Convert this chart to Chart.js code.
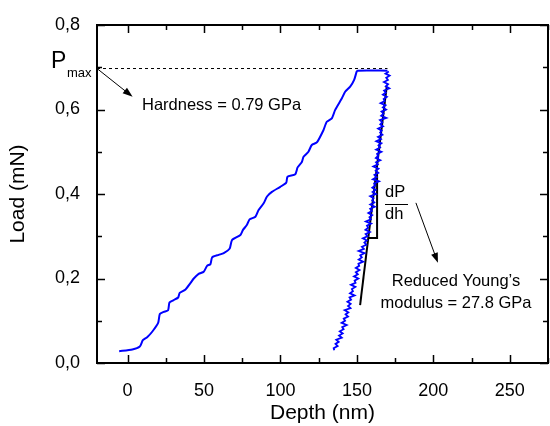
<!DOCTYPE html>
<html>
<head>
<meta charset="utf-8">
<script src="https://cdn.jsdelivr.net/npm/chart.js@4.4.0/dist/chart.umd.min.js"></script>
<style>
  html, body { margin: 0; padding: 0; background: #fff; }
  #wrap { width: 550px; height: 426px; }
</style>
</head>
<body>
<div id="wrap"><canvas id="chart" width="550" height="426"></canvas></div>
<script>
// loading branch (depth nm, load mN)
const loadDepth = [-5.5, 3.1, 8, 10, 12.8, 16.1, 20, 21.1, 23.7, 26.5, 27.4, 30.2, 33.1, 34.1, 37.9, 41.1, 43.3, 46.5, 49.8, 52, 54.2, 55.3, 59.6, 62.9, 66.8, 68.3, 73.8, 75.5, 78.1, 79.8, 83.6, 85.7, 89, 91.2, 94.4, 99.9, 103.8, 104.6, 109.7, 111.2, 114, 115.1, 118.3, 120.5, 123.8, 128.1, 130.3, 133.6, 135.8, 140.1, 142.3, 145.6, 148.2, 149.9, 150.5, 170];
const loadForce = [0.028, 0.032, 0.039, 0.054, 0.061, 0.074, 0.095, 0.116, 0.121, 0.125, 0.143, 0.149, 0.155, 0.166, 0.174, 0.189, 0.2, 0.211, 0.216, 0.23, 0.234, 0.25, 0.256, 0.26, 0.271, 0.291, 0.303, 0.315, 0.327, 0.34, 0.346, 0.362, 0.378, 0.394, 0.405, 0.417, 0.427, 0.441, 0.447, 0.463, 0.476, 0.488, 0.5, 0.516, 0.522, 0.551, 0.571, 0.579, 0.599, 0.626, 0.642, 0.654, 0.67, 0.69, 0.692, 0.692];

// unloading branch (noisy)
const unloadDepth = [
    170.9, 168.7, 171.4, 169.2, 170.3, 167.7, 170.4, 168.9, 171.2, 167.8,
    169.0, 167.0, 169.6, 167.5, 168.2, 165.5, 168.7, 167.0, 169.1, 166.1,
    167.5, 165.9, 169.2, 165.1, 166.6, 165.3, 167.1, 163.9, 166.2, 165.2,
    166.7, 163.8, 165.7, 162.7, 166.0, 164.1, 165.2, 162.6, 166.0, 163.2,
    163.8, 162.4, 165.3, 162.5, 163.7, 160.8, 164.1, 162.3, 164.0, 161.5,
    163.0, 160.5, 164.4, 161.3, 162.0, 160.1, 162.3, 160.3, 162.5, 158.7,
    160.9, 160.0, 161.4, 158.8, 161.7, 158.7, 159.8, 157.5, 160.0, 158.2,
    159.1, 155.9, 159.3, 156.6, 157.4, 155.6, 158.5, 155.7, 156.9, 153.9,
    156.5, 154.9, 156.2, 153.3, 154.6, 151.2, 155.0, 152.2, 153.2, 151.2,
    154.1, 151.0, 151.5, 149.3, 151.7, 149.3, 150.6, 148.1, 150.9, 148.5,
    149.1, 146.1, 149.0, 146.7, 147.4, 145.5, 148.5, 145.2, 146.2, 143.8,
    145.9, 144.2, 145.8, 142.0, 144.4, 142.6, 144.2, 141.4, 142.3, 140.0,
    143.3, 140.4, 141.3, 138.8, 140.7, 138.3, 140.1, 136.5, 138.1, 136.0,
    137.4, 134.8, 135.2];
const unloadForce = [
    0.690, 0.685, 0.680, 0.675, 0.670, 0.665, 0.660, 0.655, 0.650, 0.645,
    0.640, 0.635, 0.630, 0.625, 0.620, 0.615, 0.610, 0.605, 0.600, 0.595,
    0.590, 0.585, 0.580, 0.575, 0.570, 0.565, 0.560, 0.555, 0.550, 0.545,
    0.540, 0.535, 0.530, 0.525, 0.520, 0.515, 0.510, 0.505, 0.500, 0.495,
    0.490, 0.485, 0.480, 0.475, 0.470, 0.465, 0.460, 0.455, 0.450, 0.445,
    0.440, 0.435, 0.430, 0.425, 0.420, 0.415, 0.410, 0.405, 0.400, 0.395,
    0.390, 0.385, 0.380, 0.375, 0.370, 0.365, 0.360, 0.355, 0.350, 0.345,
    0.340, 0.335, 0.330, 0.325, 0.320, 0.315, 0.310, 0.305, 0.300, 0.295,
    0.290, 0.285, 0.280, 0.275, 0.270, 0.265, 0.260, 0.255, 0.250, 0.245,
    0.240, 0.235, 0.230, 0.225, 0.220, 0.215, 0.210, 0.205, 0.200, 0.195,
    0.190, 0.185, 0.180, 0.175, 0.170, 0.165, 0.160, 0.155, 0.150, 0.145,
    0.140, 0.135, 0.130, 0.125, 0.120, 0.115, 0.110, 0.105, 0.100, 0.095,
    0.090, 0.085, 0.080, 0.075, 0.070, 0.065, 0.060, 0.055, 0.050, 0.045,
    0.040, 0.035, 0.030];

// construction lines
const pmaxDepth = [-20, 170];
const pmaxForce = [0.697, 0.697];
const tangentDepth = [152.1, 169.5];
const tangentForce = [0.137, 0.654];
const triangleDepth = [157.3, 163.2, 163.2];
const triangleForce = [0.296, 0.296, 0.45];

// axes
const xMajor = [0, 50, 100, 150, 200, 250];
const xMinor = [25, 75, 125, 175, 225, 275];
const yMajor = [0, 0.2, 0.4, 0.6, 0.8];
const yMinor = [0.1, 0.3, 0.5, 0.7];
const yLabels = ['0,0', '0,2', '0,4', '0,6', '0,8'];

const FONT = "'Liberation Sans', Arial, sans-serif";

function pts(xs, ys) {
    return xs.map((x, i) => ({ x: x, y: ys[i] }));
}

// inward ticks + frame
const frameTicks = {
    id: 'frameTicks',
    afterDraw(chart) {
        const { ctx, chartArea: a, scales: { x, y } } = chart;
        ctx.save();
        ctx.strokeStyle = '#000';
        ctx.lineWidth = 2;
        ctx.strokeRect(a.left, a.top, a.right - a.left, a.bottom - a.top);
        ctx.lineWidth = 1.5;
        ctx.beginPath();
        const xt = (v, len) => {
            const px = Math.round(x.getPixelForValue(v)) + 0.5;
            ctx.moveTo(px, a.bottom); ctx.lineTo(px, a.bottom - len);
            ctx.moveTo(px, a.top); ctx.lineTo(px, a.top + len);
        };
        const yt = (v, len) => {
            const py = Math.round(y.getPixelForValue(v)) + 0.5;
            ctx.moveTo(a.left, py); ctx.lineTo(a.left + len, py);
            ctx.moveTo(a.right, py); ctx.lineTo(a.right - len, py);
        };
        xMajor.forEach(v => xt(v, 8));
        xMinor.forEach(v => xt(v, 5));
        yMajor.forEach(v => yt(v, 8));
        yMinor.forEach(v => yt(v, 5));
        ctx.stroke();
        ctx.restore();
    }
};

function arrow(ctx, x1, y1, x2, y2) {
    const ang = Math.atan2(y2 - y1, x2 - x1);
    const L = 10, W = 3.5;
    ctx.beginPath();
    ctx.moveTo(x1, y1);
    ctx.lineTo(x2 - L * Math.cos(ang) * 0.8, y2 - L * Math.sin(ang) * 0.8);
    ctx.stroke();
    ctx.beginPath();
    ctx.moveTo(x2, y2);
    ctx.lineTo(x2 - L * Math.cos(ang) + W * Math.sin(ang), y2 - L * Math.sin(ang) - W * Math.cos(ang));
    ctx.lineTo(x2 - L * Math.cos(ang) - W * Math.sin(ang), y2 - L * Math.sin(ang) + W * Math.cos(ang));
    ctx.closePath();
    ctx.fill();
}

const notes = {
    id: 'notes',
    afterDraw(chart) {
        const { ctx, scales: { x, y } } = chart;
        ctx.save();
        ctx.fillStyle = '#000';
        ctx.strokeStyle = '#000';
        ctx.lineWidth = 1;

        // Pmax label
        ctx.textBaseline = 'alphabetic';
        ctx.textAlign = 'left';
        ctx.font = '23px ' + FONT;
        ctx.fillText('P', 51, 68);
        ctx.font = '13px ' + FONT;
        ctx.fillText('max', 67, 77);

        // hardness
        arrow(ctx, x.getPixelForValue(-20), y.getPixelForValue(0.697),
              x.getPixelForValue(3.3), y.getPixelForValue(0.63));
        ctx.font = '16.5px ' + FONT;
        ctx.fillText('Hardness = 0.79 GPa', 142, 110);

        // dP/dh
        ctx.fillText('dP', 385, 197);
        ctx.fillText('dh', 385, 219);
        ctx.beginPath();
        ctx.moveTo(385, 204.5); ctx.lineTo(408, 204.5);
        ctx.stroke();

        arrow(ctx, x.getPixelForValue(188.6), y.getPixelForValue(0.379),
              x.getPixelForValue(203), y.getPixelForValue(0.237));
        ctx.textAlign = 'center';
        ctx.fillText('Reduced Young\u2019s', 456, 286);
        ctx.fillText('modulus = 27.8 GPa', 456, 308);
        ctx.restore();
    }
};

new Chart(document.getElementById('chart'), {
    type: 'scatter',
    data: {
        datasets: [
            { data: pts(pmaxDepth, pmaxForce), showLine: true, borderColor: '#000', borderWidth: 1, borderDash: [3, 3], pointRadius: 0 },
            { data: pts(loadDepth, loadForce), showLine: true, borderColor: '#0000ff', borderWidth: 2, pointRadius: 0, tension: 0.2 },
            { data: pts(unloadDepth, unloadForce), showLine: true, borderColor: '#0000ff', borderWidth: 1.8, pointRadius: 0 },
            { data: pts(tangentDepth, tangentForce), showLine: true, borderColor: '#000', borderWidth: 2, pointRadius: 0 },
            { data: pts(triangleDepth, triangleForce), showLine: true, borderColor: '#000', borderWidth: 2, pointRadius: 0 }
        ]
    },
    options: {
        responsive: false,
        animation: false,
        devicePixelRatio: 1,
        layout: { padding: { top: 25, right: 2, left: 0, bottom: 0 } },
        plugins: { legend: { display: false }, tooltip: { enabled: false } },
        scales: {
            x: {
                type: 'linear',
                min: -20,
                max: 275,
                grid: { display: false },
                border: { display: false },
                afterBuildTicks: s => { s.ticks = xMajor.map(v => ({ value: v })); },
                afterFit: s => { s.height = 63; },
                ticks: { color: '#000', padding: 9, maxRotation: 0, font: { family: FONT, size: 18 } },
                title: { display: true, text: 'Depth (nm)', color: '#000', padding: { top: 0, bottom: 0 }, font: { family: FONT, size: 21 } }
            },
            y: {
                type: 'linear',
                min: 0,
                max: 0.8,
                grid: { display: false },
                border: { display: false },
                afterBuildTicks: s => { s.ticks = yMajor.map(v => ({ value: v })); },
                afterFit: s => { s.width = 97; },
                ticks: {
                    color: '#000', padding: 9, font: { family: FONT, size: 18 },
                    callback: (v) => yLabels[yMajor.findIndex(m => Math.abs(m - v) < 1e-6)]
                },
                title: { display: true, text: 'Load (mN)', color: '#000', padding: { top: 6, bottom: 0 }, font: { family: FONT, size: 21 } }
            }
        }
    },
    plugins: [frameTicks, notes]
});
</script>
</body>
</html>
